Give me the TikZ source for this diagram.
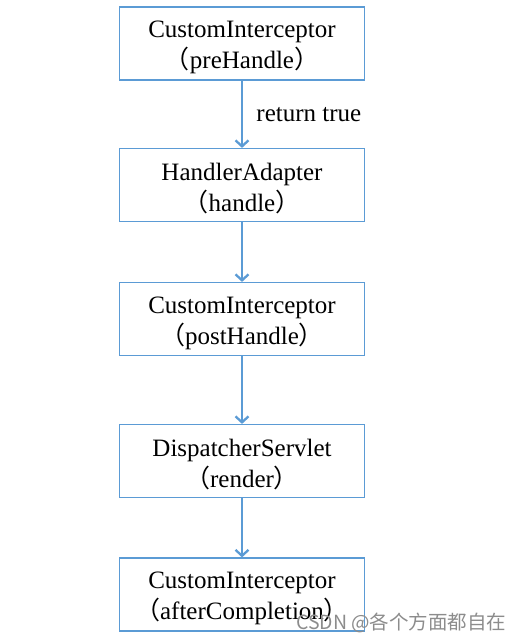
\documentclass[tikz,border=0pt]{standalone}
\usepackage{fontspec}
\setmainfont{Liberation Serif}
\newfontfamily\cjk{Noto Sans CJK SC}
\usetikzlibrary{arrows.meta,positioning}
\definecolor{flowblue}{RGB}{91,155,213}
\newcommand{\lp}{{\cjk （}}
\newcommand{\rp}{{\cjk ）}}
\tikzset{
  stagebox/.style={draw=flowblue,line width=1.2pt,minimum width=245pt,minimum height=73pt},
  stagetext/.style={align=center,inner sep=0pt,font=\fontsize{25}{31}\selectfont},
  flow/.style={draw=flowblue,line width=2.3pt,-{Straight Barb[length=6pt,width=13pt,line width=2.3pt]}}
}
\begin{document}
\begin{tikzpicture}[x=1pt,y=-1pt]
		\useasboundingbox (0,0) rectangle (524,642);
		\foreach \Name/\Y/\Top/\Bot in {pre/43.5/CustomInterceptor/preHandle,ada/185/HandlerAdapter/handle,post/319/CustomInterceptor/postHandle,disp/461/DispatcherServlet/render,after/594.5/CustomInterceptor/afterCompletion}
		{
		\node[stagebox] (\Name) at (242,\Y) {};
		\node[stagetext] (\Name-txt) at ([yshift=-4pt]\Name.center) {\Top\\\lp\Bot\rp};
		}
		\draw[flow] (pre) -- node[right=10pt,font=\fontsize{25}{27}\selectfont] {return true} (ada);
		\draw[flow] (ada) -- (post);
		\draw[flow] (post) -- (disp);
		\draw[flow] (disp) -- (after);
		\node[anchor=east,text=black!45,font=\cjk\fontsize{19.5}{21}\selectfont] (mark) at (510,623) {CSDN @各个方面都自在};
	\end{tikzpicture}
\end{document}
